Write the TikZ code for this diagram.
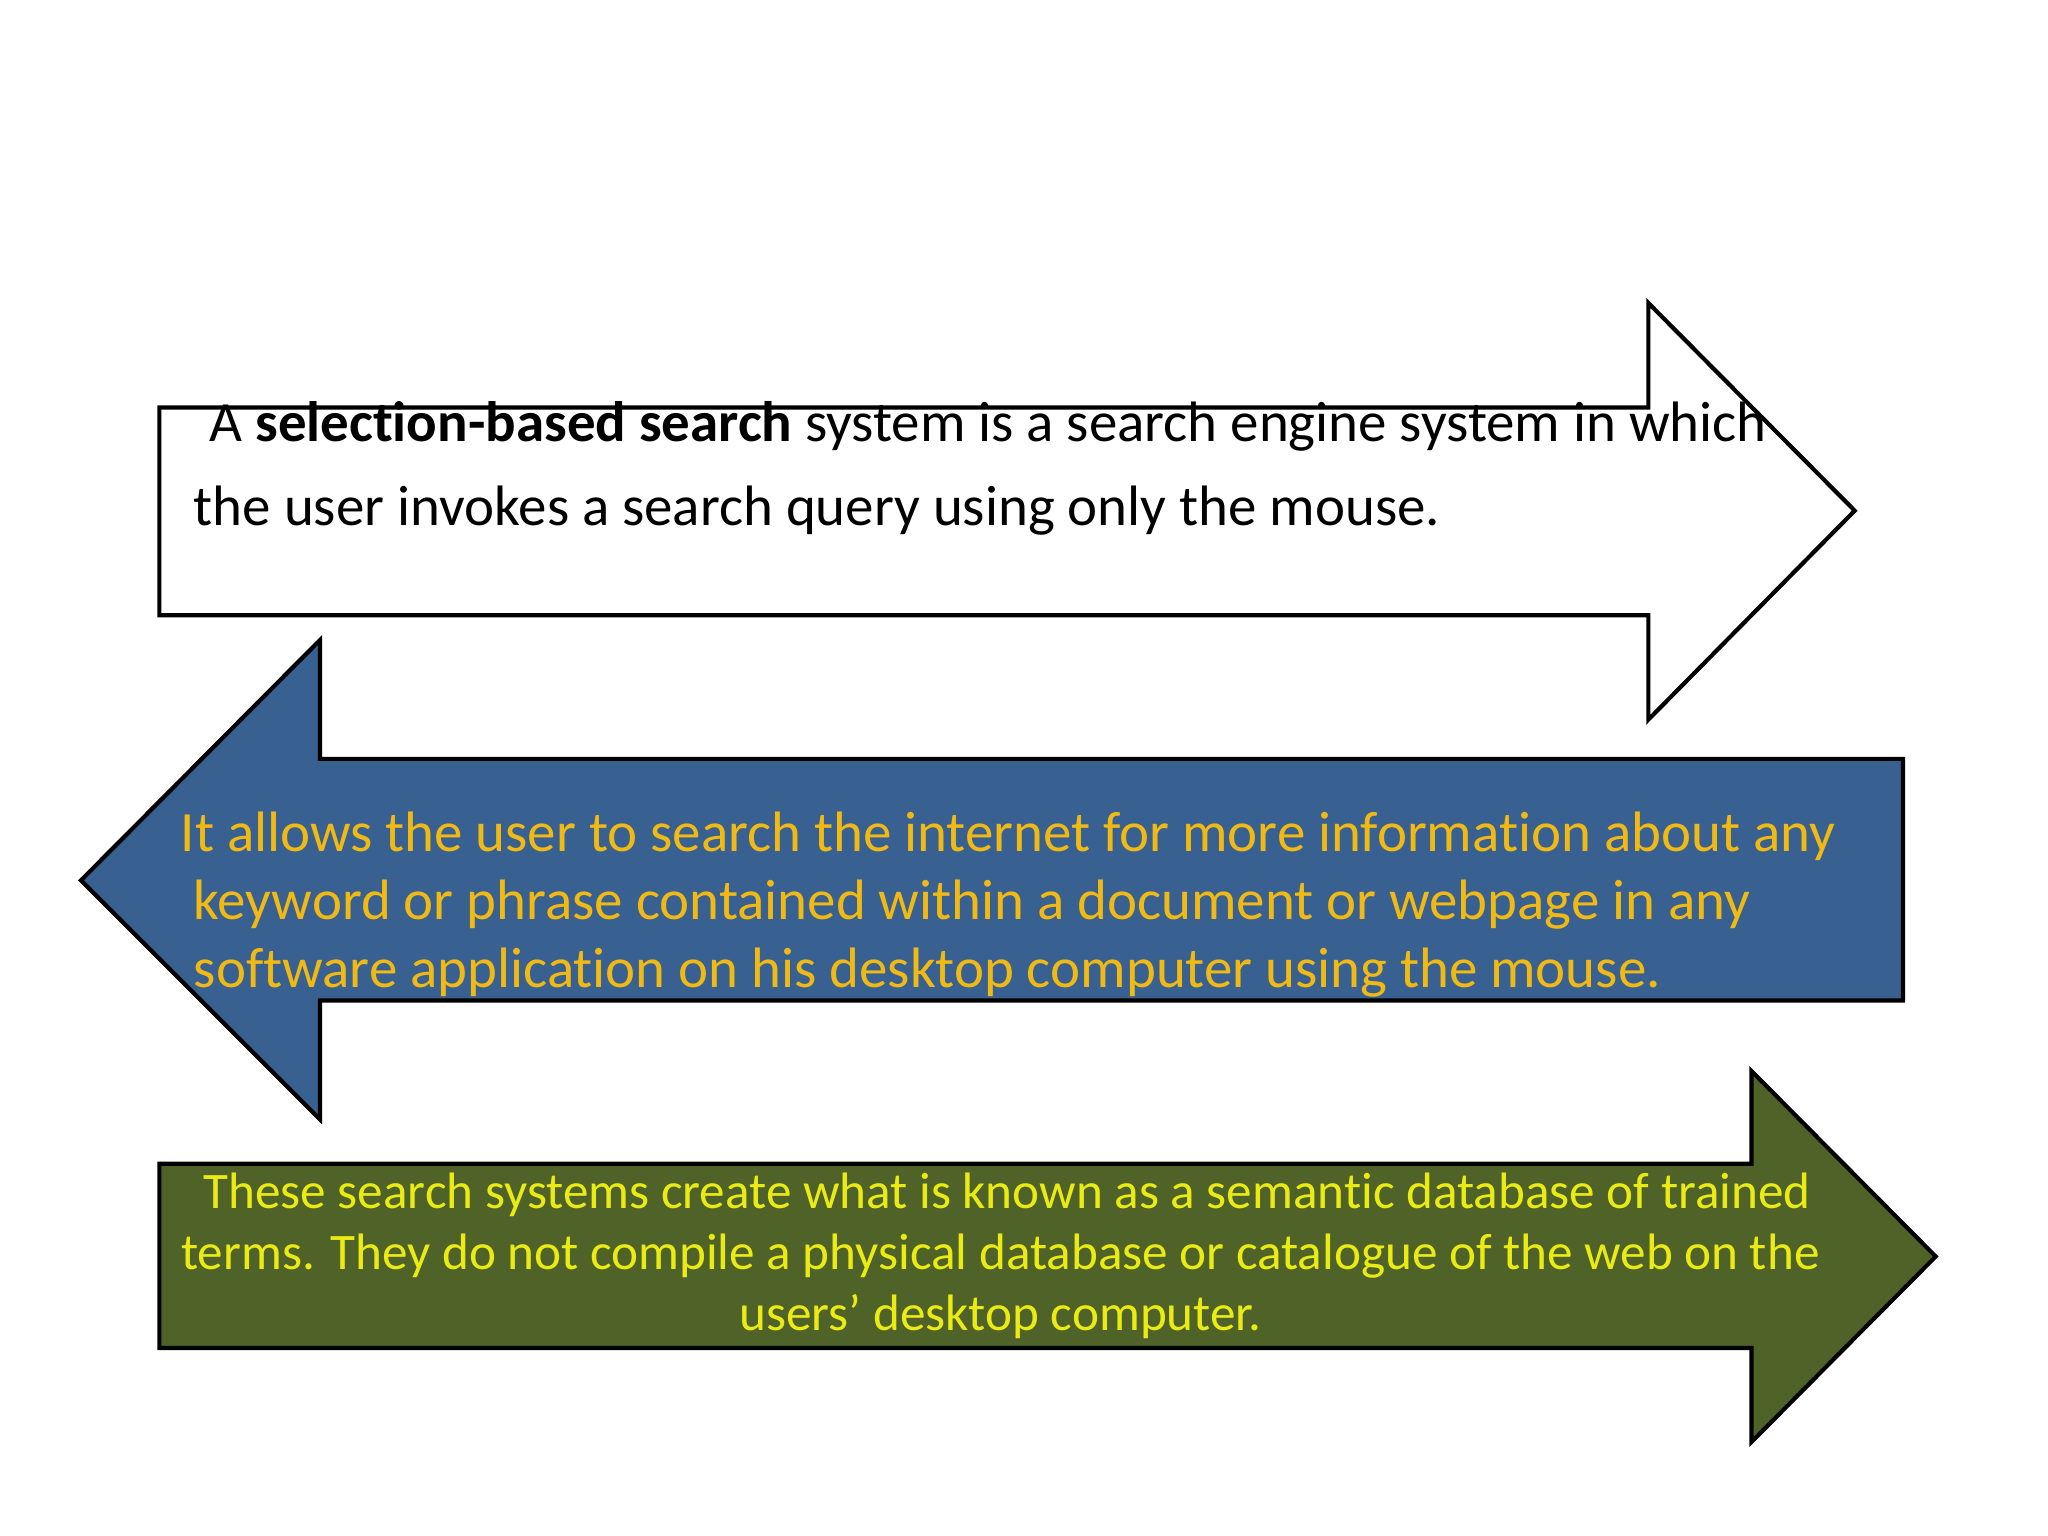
\documentclass[tikz,border=0pt]{standalone}
\usepackage{fontspec}
\setmainfont[Ligatures={NoCommon}]{Carlito}
\definecolor{bluefill}{RGB}{56,96,145}
\definecolor{goldtxt}{RGB}{240,185,20}
\definecolor{olivefill}{RGB}{79,98,40}
\definecolor{yeltxt}{RGB}{235,235,20}
\begin{document}
\begin{tikzpicture}[x=0.5pt,y=-0.5pt,
  arr/.style={draw=black,line width=1.6pt,line join=miter},
  t1/.style={anchor=base west,inner sep=0pt,font=\fontsize{21.8}{24}\selectfont},
  t3/.style={anchor=base,inner sep=0pt,font=\fontsize{19.6}{22}\selectfont,text=yeltxt}]
\useasboundingbox (0,0) rectangle (1568,1176);
\fill[white] (0,0) rectangle (1568,1176);
\draw[arr,fill=white] (122,312) -- (1262,312) -- (1262,232) -- (1420,391) -- (1262,551) -- (1262,471) -- (122,471) -- cycle;
\node[t1] (a1) at (160,338) {A \textbf{selection-based search} system is a search engine system in which};
\node[t1] (a2) at (148,402) {the user invokes a search query using only the mouse.};
\draw[arr,fill=bluefill] (1457,581) -- (245,581) -- (245,490) -- (62,674) -- (245,857) -- (245,766) -- (1457,766) -- cycle;
\node[t1,text=goldtxt] (b1) at (138,652) {It allows the user to search the internet for more information about any};
\node[t1,text=goldtxt] (b2) at (148,704) {keyword or phrase contained within a document or webpage in any};
\node[t1,text=goldtxt] (b3) at (148,756) {software application on his desktop computer using the mouse.};
\draw[arr,fill=olivefill] (122,891) -- (1341,891) -- (1341,820) -- (1482,962) -- (1341,1104) -- (1341,1032) -- (122,1032) -- cycle;
\node[t3] (c1) at (771,925) {These search systems create what is known as a semantic database of trained};
\node[t3] (c2) at (766,972) {terms. They do not compile a physical database or catalogue of the web on the};
\node[t3] (c3) at (766,1019) {users\char39\ desktop computer.};
\end{tikzpicture}
\end{document}
